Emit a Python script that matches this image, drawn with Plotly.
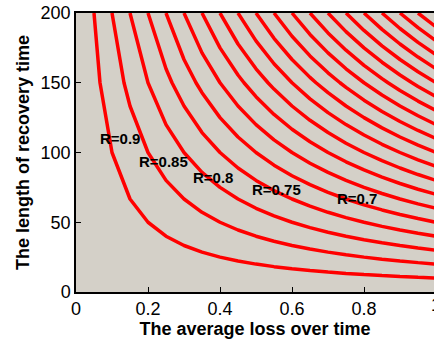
import plotly.graph_objects as go

# ---- data ----
loss = [0.00, 0.05, 0.10, 0.15, 0.20, 0.25, 0.30, 0.35, 0.40, 0.45, 0.50,
        0.55, 0.60, 0.65, 0.70, 0.75, 0.80, 0.85, 0.90, 0.95, 1.00]
recovery_time = [0, 50, 100, 150, 200]
# resilience level drawn as contour lines (R = 0.95 - loss*time/200)
level_start = -0.05
level_end = 0.90
level_step = 0.05
label_text = ["R=0.9", "R=0.85", "R=0.8", "R=0.75", "R=0.7"]
label_loss = [0.122, 0.242, 0.381, 0.556, 0.781]
label_time = [109.7, 93.9, 82.1, 73.8, 66.7]
x_ticks = [0, 0.2, 0.4, 0.6, 0.8, 1.0]
y_ticks = [0, 50, 100, 150, 200]

resilience = [[0.95 - l * t / 200.0 for l in loss] for t in recovery_time]

FONT = "Arial, Liberation Sans, sans-serif"

fig = go.Figure()
fig.add_trace(go.Contour(
    x=loss, y=recovery_time, z=resilience,
    autocontour=False,
    contours=dict(start=level_start, end=level_end + 1e-9, size=level_step,
                  coloring="lines", showlabels=False),
    colorscale=[[0, "#ff0000"], [1, "#ff0000"]],
    showscale=False,
    line=dict(width=3.5, smoothing=0),
    hoverinfo="skip",
))

for t, lx, ly in zip(label_text, label_loss, label_time):
    fig.add_annotation(x=lx, y=ly, text="<b>%s</b>" % t, showarrow=False,
                       font=dict(family=FONT, size=15, color="black"))

# partially visible last tick label (x = 1 lies just beyond the right edge)
fig.add_annotation(xref="paper", yref="paper", x=360 / 358, y=0,
                   xanchor="center", yanchor="middle",
                   yshift=-13, text="1", showarrow=False,
                   font=dict(family=FONT, size=18, color="black"))

fig.update_layout(
    width=434, height=339,
    margin=dict(l=76, r=0, t=13, b=47),
    paper_bgcolor="white",
    plot_bgcolor="#D4D0C8",
    showlegend=False,
    font=dict(family=FONT, size=18, color="black"),
)
fig.update_xaxes(
    range=[0, 358 / 360], tickvals=x_ticks, ticktext=["0", "0.2", "0.4", "0.6", "0.8", "1"],
    ticks="inside", ticklen=5, tickcolor="black", tickwidth=1,
    showline=True, linecolor="black", linewidth=1.5, mirror=True,
    showgrid=False, zeroline=False,
    tickfont=dict(family=FONT, size=18, color="black"),
    title=dict(text="<b>The average loss over time</b>", standoff=1,
               font=dict(family=FONT, size=18, color="black")),
)
fig.update_yaxes(
    range=[0, 200], tickvals=y_ticks,
    ticks="inside", ticklen=5, tickcolor="black", tickwidth=1,
    showline=True, linecolor="black", linewidth=1.5, mirror=False,
    showgrid=False, zeroline=False,
    tickfont=dict(family=FONT, size=18, color="black"),
    title=dict(text="<b>The length of recovery time</b>", standoff=6,
               font=dict(family=FONT, size=18, color="black")),
)

fig.write_html("out.html")
